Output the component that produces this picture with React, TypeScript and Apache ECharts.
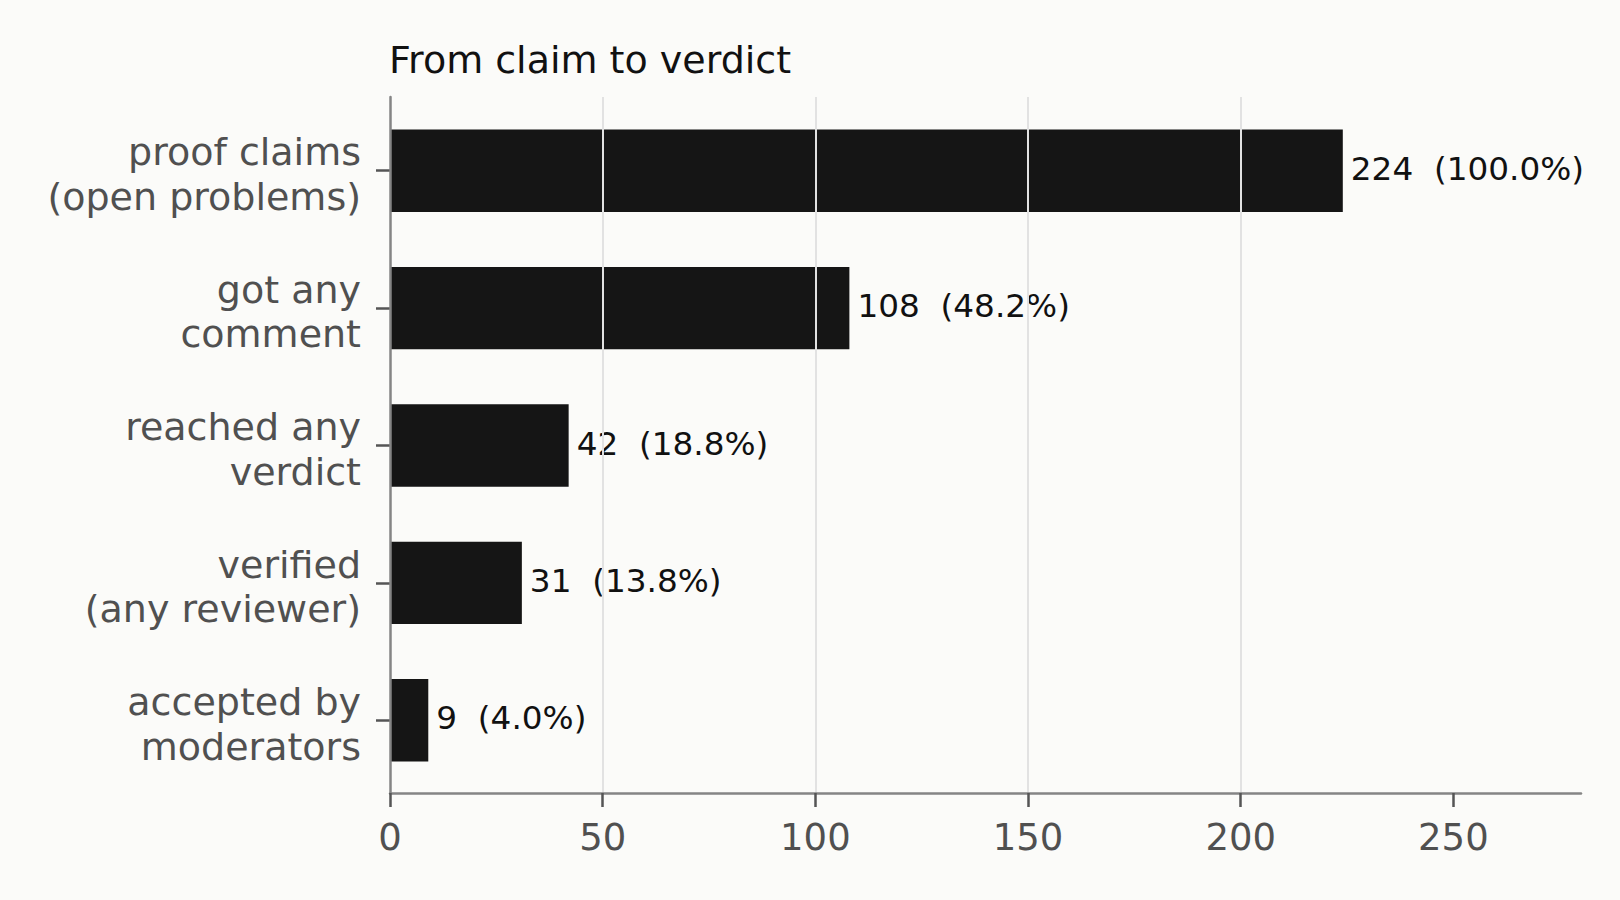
import { useEffect, useRef } from "react";
import * as echarts from "echarts";

const STAGES = [
  "proof claims\n(open problems)",
  "got any\ncomment",
  "reached any\nverdict",
  "verified\n(any reviewer)",
  "accepted by\nmoderators",
];

const COUNTS = [224, 108, 42, 31, 9];

const X_TICKS = [0, 50, 100, 150, 200, 250];
const X_MAX = 280;

const TITLE = "From claim to verdict";

const FONT = "DejaVu Sans";
const BG = "#fbfbf9";
const AXIS_GREY = "#858585";
const TICK_GREY = "#555555";
const LABEL_GREY = "#505050";

export default function App() {
  const chartRef = useRef<HTMLDivElement | null>(null);

  useEffect(() => {
    const el = chartRef.current;
    if (!el) {
      return;
    }

    const chart = echarts.init(el, null, { renderer: "svg" });
    const total = COUNTS[0];

    // grid 0: the bars and their ticks (bands sized like the matplotlib original)
    // grid 1: outer frame - axis lines, x ticks, x labels, gridlines
    // grid 2: same bands as grid 0 nudged down a little, carries the category labels
    chart.setOption({
      animation: false,
      backgroundColor: BG,
      textStyle: { fontFamily: FONT },
      title: {
        text: TITLE,
        left: 389,
        top: 41,
        padding: 0,
        textStyle: {
          fontFamily: FONT,
          fontSize: 38,
          fontWeight: "normal",
          color: "#111111",
        },
      },
      grid: [
        { left: 390, right: 39, top: 102, bottom: 111 },
        { left: 390, right: 39, top: 97, bottom: 107 },
        { left: 390, right: 39, top: 106, bottom: 107 },
      ],
      xAxis: [
        {
          type: "value",
          gridIndex: 0,
          min: 0,
          max: X_MAX,
          show: false,
        },
        {
          type: "value",
          gridIndex: 1,
          min: 0,
          max: X_MAX,
          interval: 50,
          z: 3,
          axisLine: {
            show: true,
            lineStyle: { color: AXIS_GREY, width: 2.5 },
          },
          axisTick: {
            show: true,
            length: 14,
            customValues: X_TICKS,
            lineStyle: { color: TICK_GREY, width: 2.5 },
          },
          axisLabel: {
            fontFamily: FONT,
            fontSize: 37,
            color: LABEL_GREY,
            margin: 26,
            customValues: X_TICKS,
          },
          splitLine: {
            show: true,
            showMinLine: false,
            showMaxLine: false,
            lineStyle: { color: "#e2e2e2", width: 2 },
          },
        },
        {
          type: "value",
          gridIndex: 2,
          min: 0,
          max: X_MAX,
          show: false,
        },
      ],
      yAxis: [
        {
          type: "category",
          gridIndex: 0,
          data: STAGES,
          inverse: true,
          axisLine: { show: false },
          axisTick: {
            show: true,
            alignWithLabel: true,
            length: 14,
            lineStyle: { color: TICK_GREY, width: 2.5 },
          },
          axisLabel: { show: false },
          splitLine: { show: false },
        },
        {
          type: "category",
          gridIndex: 1,
          data: STAGES,
          inverse: true,
          z: 3,
          axisLine: {
            show: true,
            lineStyle: { color: AXIS_GREY, width: 2.5 },
          },
          axisTick: { show: false },
          axisLabel: { show: false },
          splitLine: { show: false },
        },
        {
          type: "category",
          gridIndex: 2,
          data: STAGES,
          inverse: true,
          axisLine: { show: false },
          axisTick: { show: false },
          axisLabel: {
            fontFamily: FONT,
            fontSize: 38,
            lineHeight: 44.5,
            color: LABEL_GREY,
            margin: 29,
            align: "right",
          },
          splitLine: { show: false },
        },
      ],
      series: [
        {
          type: "bar",
          xAxisIndex: 0,
          yAxisIndex: 0,
          data: COUNTS,
          barWidth: "60%",
          itemStyle: { color: "#151515" },
          label: {
            show: true,
            position: "right",
            distance: 8,
            offset: [0, -2],
            fontFamily: FONT,
            fontSize: 32.7,
            color: "#111111",
            formatter: (p: { value: number }) =>
              `${p.value}  (${((p.value / total) * 100).toFixed(1)}%)`,
          },
        },
      ],
    });

    return () => {
      chart.dispose();
    };
  }, []);

  return (
    <div
      ref={chartRef}
      style={{
        position: "fixed",
        left: 0,
        top: 0,
        width: 1620,
        height: 900,
        background: BG,
      }}
    />
  );
}
